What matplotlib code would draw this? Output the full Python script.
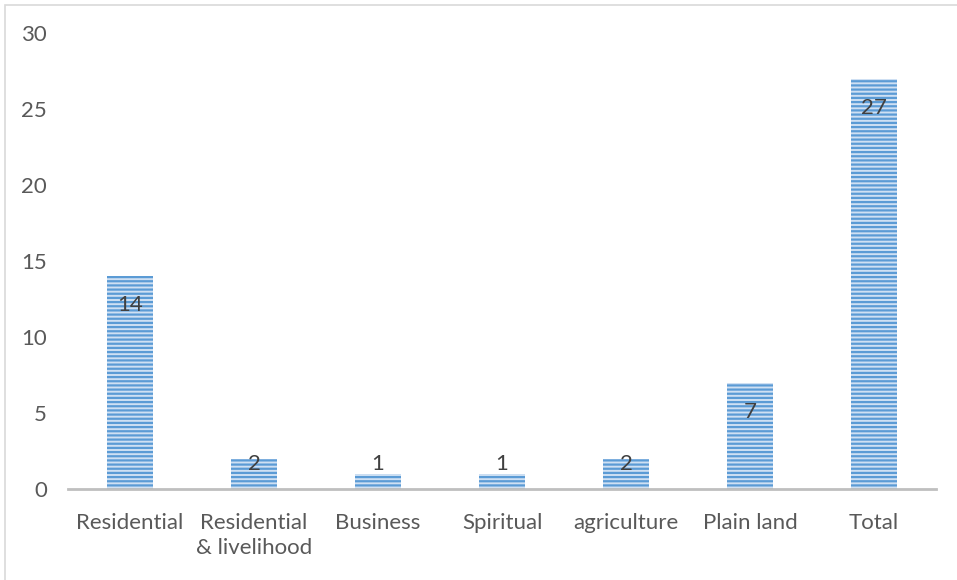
import numpy as np
import matplotlib
matplotlib.use("Agg")
import matplotlib.pyplot as plt
from matplotlib.patches import Rectangle

categories = ["Residential", "Residential\n& livelihood", "Business", "Spiritual",
              "agriculture", "Plain land", "Total"]
values = [14, 2, 1, 1, 2, 7, 27]
yticks = [0, 5, 10, 15, 20, 25, 30]

plt.rcParams['font.family'] = ['Lato', 'DejaVu Sans']
plt.rcParams['hatch.linewidth'] = 1.6

W, H = 957, 580
fig = plt.figure(figsize=(W / 100, H / 100), dpi=100)
ax = fig.add_axes([68 / W, 91 / H, 868 / W, 456 / H])

x = np.arange(len(categories))
ax.bar(x, values, width=0.37, color="#cfe0f3", edgecolor="#5b9bd5",
       linewidth=0, hatch="----", zorder=2)

fs = 16
ax.set_xlim(-0.5, len(categories) - 0.5)
ax.set_ylim(0, 30)
ax.set_yticks(yticks)
ax.set_xticks(x)
ax.set_xticklabels(categories, fontsize=fs, color="#595959", linespacing=1.35)
ax.tick_params(axis="y", length=0, pad=15, labelsize=fs, labelcolor="#595959")
ax.tick_params(axis="x", length=0, pad=17)
for s in ["top", "right", "left"]:
    ax.spines[s].set_visible(False)
ax.spines["bottom"].set_color("#bfbfbf")
ax.spines["bottom"].set_linewidth(2)
ax.spines["bottom"].set_zorder(3)

# data labels, inside end like the original
px_per_unit = 456 / 30
for xi, v in zip(x, values):
    top_px = v * px_per_unit
    y_px = max(top_px - 29, 25)
    ax.text(xi, y_px / px_per_unit, str(v), ha="center", va="center",
            fontsize=fs, color="#404040", zorder=4)

# chart border
fig.patches.append(Rectangle((5 / W, -0.1), 1.2, (H - 5) / H + 0.1,
                             transform=fig.transFigure, fill=False,
                             edgecolor="#d9d9d9", linewidth=1.2))

fig.savefig("out.png", dpi=100)
